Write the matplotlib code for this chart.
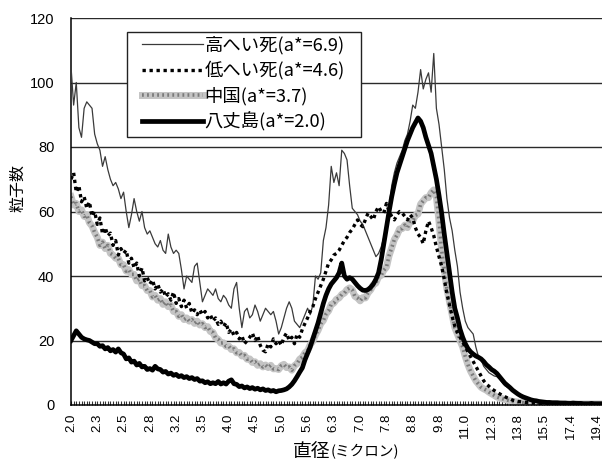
import numpy as np
import matplotlib
matplotlib.use("Agg")
import matplotlib.pyplot as plt
from matplotlib.patches import Rectangle

plt.rcParams['font.family'] = ['Noto Sans CJK JP', 'DejaVu Sans']

# particle diameter labels (every 10th size class)
size_labels = ["2.0", "2.3", "2.5", "2.8", "3.2", "3.5", "4.0", "4.5", "5.0", "5.6",
               "6.3", "7.0", "7.8", "8.8", "9.8", "11.0", "12.3", "13.8", "15.5",
               "17.4", "19.4"]

# particle counts per size class (203 classes)
high_mortality = [
    105, 93, 100, 86, 83, 92, 94, 93, 92, 84,
    81, 79, 74, 77, 73, 70, 68, 69, 67, 64,
    66, 60, 55, 59, 64, 60, 57, 60, 55, 53,
    54, 52, 50, 49, 51, 48, 47, 53, 49, 47,
    48, 47, 42, 36, 40, 39, 38, 43, 44, 38,
    32, 34, 36, 35, 34, 36, 33, 32, 34, 33,
    31, 30, 36, 38, 30, 24, 29, 30, 27, 28,
    31, 29, 26, 28, 30, 29, 28, 29, 26, 22,
    24, 27, 30, 32, 30, 26, 25, 24, 26, 28,
    30, 28, 31, 40, 39, 41, 51, 55, 62, 74,
    69, 72, 68, 79, 78, 76, 68, 61, 60, 59,
    57, 56, 54, 52, 50, 48, 46, 47, 49, 52,
    55, 61, 68, 72, 75, 77, 79, 82, 84, 88,
    93, 92, 97, 104, 98, 101, 103, 97, 109, 92,
    87, 80, 73, 64, 58, 54, 48, 43, 35, 30,
    26, 24, 23, 22, 18, 15, 14, 12, 11, 10,
    9.5, 9, 8.8, 8, 7, 6, 5.5, 5, 4.5, 4,
    3.6, 3, 2.5, 2, 1.5, 1.2, 1.0, 0.9, 0.8, 0.8,
    0.7, 0.7, 0.6, 0.7, 0.6, 0.6, 0.5, 0.6, 0.5, 0.5,
    0.6, 0.5, 0.5, 0.4, 0.5, 0.5, 0.4, 0.4, 0.5, 0.4,
    0.4, 0.4, 0.4,
]

low_mortality = [
    70, 72, 66, 68, 63, 64.6, 61, 63, 58.5, 60,
    56, 58, 53, 55, 52.5, 53.3, 49.5, 51, 46.5, 48.5,
    47, 48, 44, 45.5, 42.5, 44, 40, 42.5, 38.5, 39.5,
    37.5, 38.8, 36, 37.5, 35, 36, 33.5, 34.5, 32.5, 35,
    31.5, 33, 30.5, 32.5, 30, 31.5, 28.5, 29.5, 28, 29.5,
    28, 29, 27, 28, 26, 27, 25, 26, 24.3, 25.5,
    22.5, 23.5, 21.5, 22.5, 20.5, 21.5, 19, 20, 21, 22.3,
    20, 21.5, 18.5, 17, 16.5, 19, 18, 20.5, 19, 20,
    18.5, 21, 22.3, 20, 21, 19, 22, 21, 23.5, 25.3,
    27, 29, 30.5, 33, 35, 37, 39, 41.5, 44, 45,
    46.5, 47, 48, 49.5, 51, 52, 53.5, 54.5, 56, 57.4,
    56, 55.3, 57.5, 59.5, 58.5, 57.4, 60, 61.5, 60, 59.5,
    62.5, 60, 58.5, 57.4, 59, 60, 59.5, 58.5, 57.4, 59,
    58, 55, 53, 52, 50, 54, 57, 55, 52.5, 49,
    46, 43, 39, 34.5, 31, 27.4, 24.5, 22.5, 21, 19.5,
    18, 16.5, 15, 13.5, 12, 10.5, 9, 7.5, 6.5, 5.8,
    5, 4.5, 4, 3.5, 3, 2.6, 2.2, 1.9, 1.5, 1.3,
    1.1, 1.0, 0.9, 0.8, 0.7, 0.6, 0.6, 0.5, 0.5, 0.5,
    0.5, 0.4, 0.5, 0.4, 0.4, 0.5, 0.4, 0.4, 0.4, 0.4,
    0.3, 0.4, 0.4, 0.4, 0.3, 0.4, 0.3, 0.3, 0.4, 0.3,
    0.3, 0.3, 0.3,
]

china = [
    64.6, 62, 62.5, 60, 60.5, 58.5, 59, 56.5, 55.5, 53.5,
    52, 49.5, 50.5, 48.5, 49.5, 47, 46.5, 45.5, 45.5, 43.5,
    43.5, 41.5, 42, 40.5, 40.5, 38.5, 39, 37, 37, 35.5,
    35.5, 33.5, 34, 32.5, 33, 31.2, 32, 30.5, 31, 29,
    29, 27.5, 28, 26.5, 27, 26, 26.5, 25.3, 26, 24.8,
    25.2, 24, 24.3, 22.8, 22.5, 20.8, 20.4, 19.2, 19.3, 18.2,
    18.3, 17.2, 17.4, 16.2, 16.3, 15.2, 15.4, 14.2, 14.3, 13.2,
    13.4, 12.3, 12.8, 11.8, 12.4, 11.6, 12.3, 11.2, 11.3, 11.0,
    12.2, 12.6, 11.6, 11.8, 10.8, 12.2, 12.8, 14.2, 14.8, 16.2,
    16.8, 18.7, 19.8, 21.7, 23.2, 25.2, 26.2, 28.2, 29.2, 31.2,
    31.6, 32.8, 33.2, 34.3, 34.7, 35.8, 36.3, 35.7, 33.7, 33.2,
    32.3, 33.3, 33.2, 34.8, 35.7, 37.3, 37.8, 39.8, 40.2, 41.8,
    42.7, 46.3, 48.7, 51.3, 52.7, 54.6, 54.7, 55.8, 55.0, 56.8,
    57.1, 58.8, 59.2, 62.3, 63.3, 64.3, 64.3, 65.8, 66.7, 64.6,
    57, 48, 42, 36, 32, 28, 24, 22, 20, 18,
    15, 12.5, 10.5, 9, 7.5, 6.5, 5.5, 5, 4.6, 4,
    3.5, 3, 2.5, 2.2, 2, 1.7, 1.5, 1.3, 1.1, 1.0,
    0.9, 0.8, 0.7, 0.6, 0.5, 0.5, 0.5, 0.4, 0.4, 0.4,
    0.4, 0.4, 0.3, 0.4, 0.4, 0.3, 0.4, 0.3, 0.3, 0.4,
    0.3, 0.3, 0.4, 0.3, 0.3, 0.3, 0.3, 0.3, 0.3, 0.3,
    0.3, 0.3, 0.3,
]

hachijojima = [
    20, 21.5, 23, 22, 21, 20.5, 20.2, 20, 19.5, 19,
    19, 18.2, 18.4, 17.4, 17.8, 16.8, 17.2, 16.4, 17.4, 16.2,
    15.8, 14.3, 14.6, 13.3, 13.6, 12.4, 12.9, 11.8, 12, 11,
    11.3, 10.8, 12, 11.2, 11, 10.2, 10.4, 9.6, 9.9, 9.2,
    9.5, 8.8, 9.1, 8.5, 8.8, 8.2, 8.5, 7.9, 8.2, 7.4,
    7.5, 6.9, 7.2, 6.6, 6.9, 6.6, 7.3, 6.5, 6.9, 6.5,
    7.4, 7.8, 6.6, 6.4, 5.7, 5.9, 5.3, 5.6, 5.1, 5.4,
    4.9, 5.2, 4.7, 5, 4.5, 4.7, 4.3, 4.5, 4.1, 4.4,
    4.5, 4.7, 5, 5.6, 6.4, 7.5, 8.8, 10.2, 11.5, 14,
    16, 18, 20.5, 23, 25.5, 28.5, 31.5, 34, 36, 37.5,
    38.5, 39.5, 41, 44, 40, 39, 39.5, 39, 38, 37,
    36.2, 35.6, 35.5, 35.8, 36.5, 37.5, 39, 41, 45, 50,
    55, 60, 64.6, 68.5, 72, 74.5, 77, 79.5, 82, 84,
    86, 87.5, 89, 88, 86, 83, 80.5, 78, 74, 70,
    65, 59.5, 53, 47, 41, 35, 30, 27, 23.5, 21,
    19, 17.5, 16.5, 15.8, 15.2, 14.8, 14.3, 13.5, 12.5, 11.8,
    11, 10.5, 9.8, 8.8, 7.8, 6.8, 6.1, 5.4, 4.6, 4,
    3.4, 2.9, 2.5, 2.2, 1.9, 1.6, 1.4, 1.3, 1.1, 1.0,
    0.9, 0.8, 0.8, 0.7, 0.7, 0.7, 0.6, 0.6, 0.6, 0.5,
    0.5, 0.6, 0.5, 0.5, 0.5, 0.4, 0.4, 0.4, 0.5, 0.4,
    0.4, 0.4, 0.4,
]

series_names = ["高へい死(a*=6.9)", "低へい死(a*=4.6)", "中国(a*=3.7)", "八丈島(a*=2.0)"]

n = len(high_mortality)
x = np.arange(n)

W, H = 602, 462
fig = plt.figure(figsize=(W / 100, H / 100), dpi=100)
ax = fig.add_axes([71 / W, 1 - 405 / H, 531 / W, 387 / H])

# horizontal grid
for v in range(20, 121, 20):
    ax.axhline(v, color="#2a2a2a", lw=1.0, zorder=1)

# China: speckled grey band
ch_base, = ax.plot(x, china, color="#c4c4c4", lw=5.0, solid_joinstyle="round", zorder=2)
ch_tex, = ax.plot(x, china, color="#7a7a7a", lw=2.6, ls=(0, (0.5, 0.9)), zorder=2.1)
hi_line, = ax.plot(x, high_mortality, color="#3a3a3a", lw=0.9, zorder=3)
lo_line, = ax.plot(x, low_mortality, color="black", lw=2.4, ls=(0, (1.0, 1.1)), zorder=4)
hj_line, = ax.plot(x, hachijojima, color="black", lw=3.4, solid_joinstyle="round", zorder=5)

ax.set_xlim(0, n - 1)
ax.set_ylim(0, 120)
ax.set_yticks(range(0, 121, 20))
ax.set_yticklabels([str(v) for v in range(0, 121, 20)],
                   family=["Liberation Sans", "DejaVu Sans"], fontsize=10.5)
ax.tick_params(axis="y", length=0, pad=12)

ax.set_xticks(np.arange(0, n, 10))
ax.set_xticklabels(size_labels, rotation=90,
                   family=["Liberation Sans Narrow", "Liberation Sans"], fontsize=9.5)
ax.set_xticks(x, minor=True)
ax.tick_params(axis="x", which="both", direction="in", length=3.2, width=0.8,
               color="#333333", pad=6)

for side in ("top", "right"):
    ax.spines[side].set_visible(False)
ax.spines["left"].set_linewidth(1.1)
ax.spines["bottom"].set_linewidth(1.1)

# legend box (white panel with thin border) and its entries
box = Rectangle((127 / W, 1 - 137 / H), 234 / W, 105 / H, transform=fig.transFigure,
                facecolor="white", edgecolor="#222222", lw=1.0, zorder=9, clip_on=False)
ax.add_patch(box)
leg = ax.legend([hi_line, lo_line, (ch_base, ch_tex), hj_line], series_names,
                loc="upper left", bbox_to_anchor=(142 / W, 1 - 36 / H),
                bbox_transform=fig.transFigure,
                prop={"family": "Noto Sans CJK JP", "size": 13.2},
                frameon=False, handlelength=3.3, handletextpad=0.12,
                labelspacing=0.36, borderpad=0.0, borderaxespad=0)
leg.set_zorder(10)

fig.text(18 / W, 1 - 188 / H, "粒子数", rotation=90, ha="center", va="center",
         fontsize=11.5)

# axis title: larger kanji followed by a smaller unit in parentheses
t_main = fig.text(293 / W, 1 - 452 / H, "直径", ha="left", va="center", fontsize=13.5)
fig.canvas.draw()
bb = t_main.get_window_extent()
fig.text(bb.x1 / fig.bbox.width, 1 - 452 / H, "(ミクロン)", ha="left", va="center",
         fontsize=10.5)

fig.savefig("out.png", dpi=100)
